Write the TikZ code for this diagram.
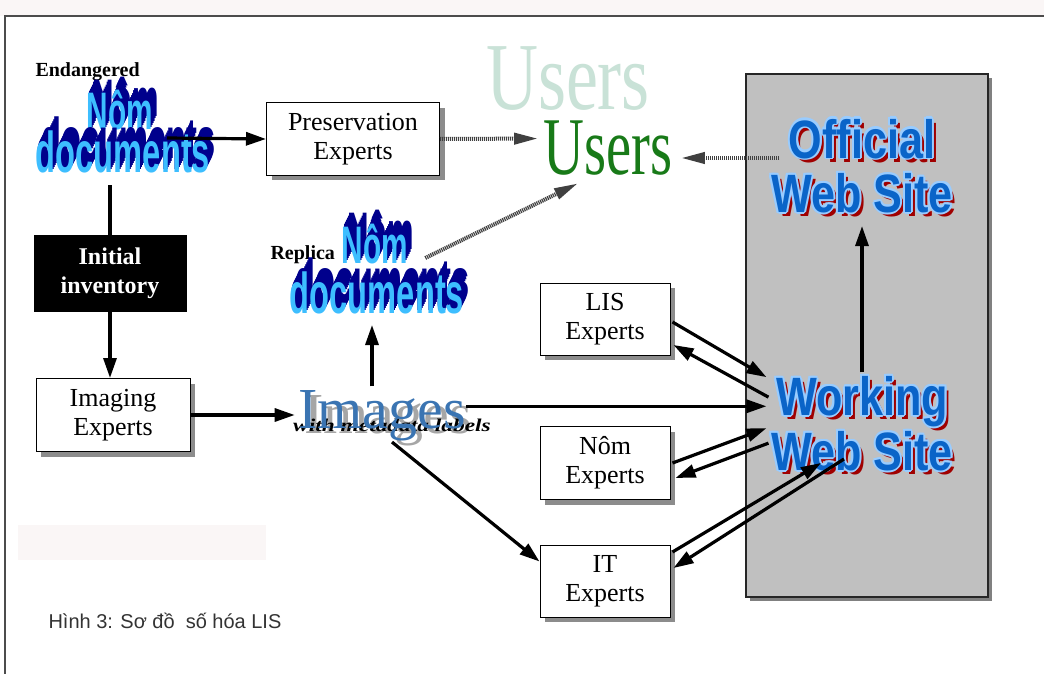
\documentclass[tikz,border=0pt]{standalone}
\usepackage{fontspec}
\setmainfont{Liberation Serif}
\newfontfamily\artsans{Liberation Sans}
\newfontfamily\capfont{Liberation Sans}
\usetikzlibrary{arrows.meta,shadows,calc}
\definecolor{nomdark}{HTML}{00008C}
\definecolor{nomlight}{HTML}{3DBEFF}
\definecolor{wsblue}{HTML}{0A64C8}
\definecolor{wslight}{HTML}{99CCFF}
\definecolor{wsred}{HTML}{A00000}
\definecolor{ghostgreen}{HTML}{C9E2D7}
\definecolor{usergreen}{HTML}{187A18}
\definecolor{imgblue}{HTML}{3A74B2}
\definecolor{panelgray}{HTML}{C0C0C0}
\definecolor{bandpink}{HTML}{FAF6F6}
\newcommand\nomtxtA[1]{\scalebox{0.62}[1.1]{\artsans\bfseries\fontsize{48}{48}\selectfont #1}}
\newcommand\nomtxtB[1]{\scalebox{0.68}[1.2]{\artsans\bfseries\fontsize{48}{48}\selectfont #1}}
\newcommand\webtxt[1]{\scalebox{0.8}[1]{\artsans\bfseries\fontsize{54}{54}\selectfont #1}}
\newcommand\nomartA[3]{%
  \foreach \t in {6,5,4,3,2,1}
    \node[anchor=base,text=nomdark,inner sep=0pt] at ($(#2)+(0.9*\t,-2.2*\t)$) {\nomtxtA{#3}};
  \node[anchor=base,text=nomlight,inner sep=0pt] (#1) at (#2) {\nomtxtA{#3}};
}
\newcommand\nomartB[3]{%
  \foreach \t in {6,5,4,3,2,1}
    \node[anchor=base,text=nomdark,inner sep=0pt] at ($(#2)+(0.9*\t,-2.2*\t)$) {\nomtxtB{#3}};
  \node[anchor=base,text=nomlight,inner sep=0pt] (#1) at (#2) {\nomtxtB{#3}};
}
\newcommand\webart[3]{%
  \node[anchor=base,text=wsred] at ($(#2)+(4,4)$) {\webtxt{#3}};
  \foreach \dx/\dy in {-2/0,2/0,0/-2,0/2,-1.4/-1.4,1.4/1.4,-1.4/1.4,1.4/-1.4}
    \node[anchor=base,text=wslight] at ($(#2)+(\dx,\dy)$) {\webtxt{#3}};
  \node[anchor=base,text=wsblue] (#1) at (#2) {\webtxt{#3}};
}
\tikzset{
  boxnode/.style={draw=black,line width=1pt,fill=white,align=center,
    font=\fontsize{26}{29}\selectfont,
    drop shadow={shadow xshift=5pt,shadow yshift=-5pt,fill=black!45,opacity=1}},
  arr/.style={line width=3.2pt,-{Triangle[length=20pt,width=13pt]}},
  plainline/.style={line width=3.2pt},
  hatch/.style={line width=4pt,draw=black!75,dash pattern=on 1.2pt off 0.8pt,
    -{Triangle[length=24pt,width=11pt,fill=black!75]}},
}
\begin{document}
\begin{tikzpicture}[x=1pt,y=-1pt]
\useasboundingbox (0,0) rectangle (1044,674);
\fill[white] (0,0) rectangle (1044,674);
\fill[bandpink] (0,0) rectangle (1044,16);
\draw[line width=1.5pt,black!70] (1044,16) -- (5,16) -- (5,674);
\fill[bandpink] (18,525) rectangle (266,560);

% panel
\fill[black!50] (750,78) rectangle (992,601);
\draw[line width=1.2pt,fill=panelgray,draw=black!85] (746,74) rectangle (988,597);

% ghost users and users
\node[anchor=base,text=ghostgreen] (ghost) at (568,110) {\scalebox{0.75}[1]{\fontsize{96}{96}\selectfont Users}};
\node[anchor=base,text=usergreen] (users) at (608,175) {\scalebox{0.69}[1]{\fontsize{82}{82}\selectfont Users}};

% endangered Nom documents
\node[anchor=base west,font=\bfseries\fontsize{20}{22}\selectfont] (endlab) at (32,77) {Endangered};
\nomartA{ennom}{120,130}{Nôm}
\nomartB{endocs}{123,172}{documents}

% replica
\node[anchor=base west,font=\bfseries\fontsize{20}{22}\selectfont] (replab) at (267,259) {Replica};
\nomartA{repnom}{375,263}{Nôm}
\nomartB{repdocs}{377,313}{documents}

% boxes
\node[boxnode,minimum width=173pt,minimum height=72pt] (pres) at (353,139) {Preservation\\Experts};
\node[draw=black,fill=black,text=white,align=center,font=\bfseries\fontsize{24}{29}\selectfont,
  minimum width=152pt,minimum height=76pt] (init) at (110,273) {Initial\\inventory};
\node[boxnode,minimum width=154pt,minimum height=73pt] (imaging) at (113,415) {Imaging\\Experts};
\node[boxnode,minimum width=130pt,minimum height=72pt] (lis) at (605,319) {LIS\\Experts};
\node[boxnode,minimum width=130pt,minimum height=73pt] (nome) at (605,463) {Nôm\\Experts};
\node[boxnode,minimum width=130pt,minimum height=72pt] (it) at (605,581) {IT\\Experts};

% images
\node[anchor=base,text=black!35] at (388,433) {\fontsize{58}{58}\selectfont Images};
\node[anchor=base,font=\bfseries\itshape] (meta) at (392,431) {\scalebox{1.3}[1]{\fontsize{18}{20}\selectfont with metadata labels}};
\node[anchor=base,text=imgblue] (images) at (382,428) {\fontsize{58}{58}\selectfont Images};

% web sites
\webart{off}{862,158}{Official}
\webart{offweb}{862,212}{Web Site}
\webart{work}{862,415}{Working}
\webart{wweb}{862,470}{Web Site}

% connectors
\draw[arr] ($(endocs.base)+(44,-34)$) -- (pres.west);
\draw[plainline] ($(endocs.base)+(-13,13)$) -- (init.north);
\draw[arr] (init.south) -- (init.south |- imaging.north);
\draw[arr] (imaging.east) -- (imaging.east -| images.west);
\draw[arr] ($(images.north)+(-10,0)$) -- ($(repdocs.base)+(-5,12)$);
\coordinate (imgR) at ($(images.east)+(-3,-9)$);
\draw[arr] (imgR) -- ($(imgR -| work.west)+(-6,0)$);
\draw[arr] ($(images.south)+(10,-2)$) -- ($(it.north west)+(0,17)$);

\draw[arr] ($(lis.east)+(2,3)$) -- ($(work.west)+(-6,-24)$);
\draw[arr] ($(work.west)+(-4,-4)$) -- ($(lis.east)+(3,26)$);
\draw[arr] ($(nome.east)+(2,0)$) -- ($(work.west)+(-6,27)$);
\draw[arr] ($(work.west)+(-4,42)$) -- ($(nome.east)+(5,15)$);
\draw[arr] ($(it.east)+(2,-29)$) -- ($(wweb.base)+(-41,-7)$);
\draw[arr] ($(wweb.base)+(-18,-11)$) -- ($(it.east)+(3,-13)$);
\draw[arr] (work.north) -- ($(offweb.south)+(0,10)$);

\draw[hatch] (pres.east) -- ($(users.west)+(-2,-10)$);
\draw[hatch] ($(off.base west)+(-6,0)$) -- ($(users.base east)+(5,-17)$);
\draw[hatch] ($(repnom.base east)+(17,-5)$) -- ($(users.south)+(-30,4)$);

% caption
\node[anchor=base west,font=\capfont\fontsize{20}{24}\selectfont,text=black!80] (cap) at (45,628) {Hình 3: Sơ đồ\ \ số hóa LIS};
\end{tikzpicture}
\end{document}
